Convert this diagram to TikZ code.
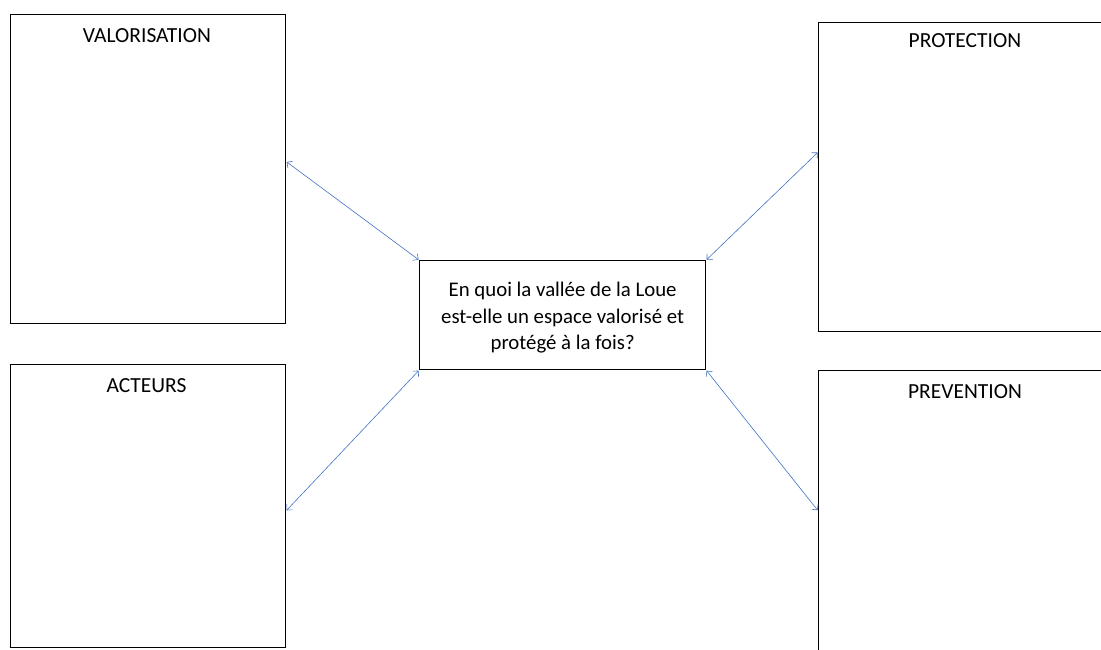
\documentclass[tikz,border=0pt]{standalone}
\usepackage{fontspec}
\setmainfont{Carlito}
\usetikzlibrary{arrows.meta}
\definecolor{arrowblue}{HTML}{4472C4}
\tikzset{
  box/.style={draw=black, line width=1.3pt, anchor=north west, inner sep=0pt},
  title/.style={anchor=base, inner sep=0pt, font=\fontsize{21.5}{26}\selectfont},
  link/.style={draw=arrowblue, line width=0.6pt, {Straight Barb[length=4pt,width=8pt]}-{Straight Barb[length=4pt,width=8pt]}, shorten <=0.5pt, shorten >=0.5pt},
}
\begin{document}
\begin{tikzpicture}[x=1pt,y=-1pt]
\useasboundingbox (0,0) rectangle (1101,649);
\fill[white] (0,0) rectangle (1101,649);
\clip (0,0) rectangle (1101,649);

\node[box, minimum width=275pt, minimum height=309pt] (val) at (10,14) {};
\node[box, minimum width=275pt, minimum height=283pt] (act) at (10,364) {};
\node[box, minimum width=294pt, minimum height=309pt] (pro) at (818,22) {};
\node[box, minimum width=294pt, minimum height=300pt] (pre) at (818,370) {};
\node[box, minimum width=286pt, minimum height=109pt] (q) at (419,260) {};

\node[title] (tval) at (147,42) {VALORISATION};
\node[title] (tact) at (146.5,392) {ACTEURS};
\node[title] (tpro) at (965,47) {PROTECTION};
\node[title] (tpre) at (965,398) {PREVENTION};
\node[align=center, inner sep=0pt, font=\fontsize{20.8}{26.5}\selectfont] (tq) at ([yshift=-2.5pt]q.center) {En quoi la vallée de la Loue\\est-elle un espace valorisé et\\protégé à la fois?};

\draw[link] ([yshift=7.5pt]val.east) -- (q.north west);
\draw[link] ([yshift=25pt]pro.west) -- (q.north east);
\draw[link] ([yshift=-4.5pt]act.east) -- (q.south west);
\draw[link] ([yshift=10pt]pre.west) -- (q.south east);
\end{tikzpicture}
\end{document}
